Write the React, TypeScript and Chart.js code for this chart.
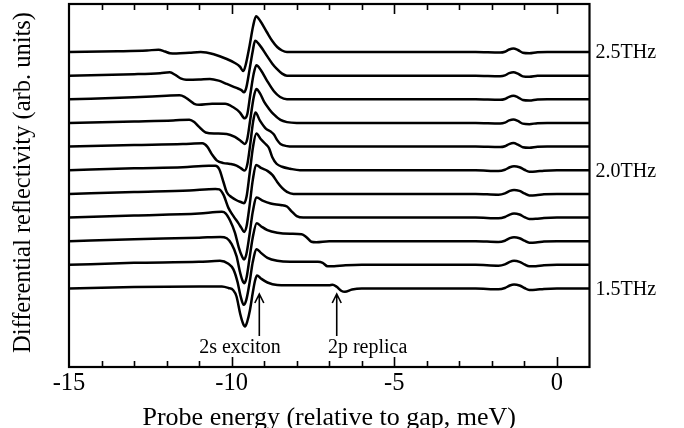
import React, { useEffect, useRef } from 'react';
import { Chart, registerables } from 'chart.js';

Chart.register(...registerables);

// ---- data (x: probe energy in meV, y: differential reflectivity, arb. units, relative to each trace's own baseline)
const frequencyTHz = [2.5, 2.4, 2.3, 2.2, 2.1, 2.0, 1.9, 1.8, 1.7, 1.6, 1.5];

const trace25: number[][] = [[-15,0],[-13.5,0.7],[-12.6,1.5],[-12.25,2.3],[-12.05,0.5],[-11.9,-1.2],[-11.7,-1.6],[-11.3,-0.8],[-10.95,0],[-10.55,-2.3],[-10.15,-7],[-9.9,-11],[-9.75,-14.5],[-9.64,-19],[-9.57,-13],[-9.45,6],[-9.34,26],[-9.25,35.7],[-9.12,31],[-8.92,20],[-8.75,11],[-8.6,5],[-8.45,1.5],[-8.3,0]];
const trace24: number[][] = [[-15,0],[-13,1.5],[-12.2,2.5],[-11.9,3.3],[-11.72,0.5],[-11.55,-3],[-11.4,-4],[-11.0,-3.8],[-10.67,-3.3],[-10.4,-5],[-10.15,-8.3],[-9.85,-12.3],[-9.7,-14.5],[-9.62,-16.7],[-9.55,-12],[-9.45,6],[-9.35,25],[-9.28,35],[-9.15,31],[-8.92,20],[-8.75,12],[-8.61,6.7],[-8.45,2],[-8.3,0]];
const trace23: number[][] = [[-15,0],[-13,2],[-12,3.5],[-11.6,4],[-11.45,2.5],[-11.3,-1],[-11.15,-4.5],[-11.0,-5.5],[-10.6,-4.5],[-10.2,-4.5],[-9.95,-8],[-9.75,-13],[-9.6,-19],[-9.52,-15],[-9.43,4],[-9.32,26],[-9.24,34],[-9.1,29],[-8.92,19],[-8.7,8],[-8.51,2.3],[-8.3,0]];
const trace22: number[][] = [[-15,0],[-13,1.5],[-11.8,2.5],[-11.3,3.3],[-11.15,1],[-11.0,-4],[-10.8,-9.5],[-10.5,-10.5],[-10.15,-11],[-9.9,-14],[-9.72,-18],[-9.6,-21],[-9.52,-16],[-9.43,3],[-9.32,26],[-9.24,34],[-9.12,29],[-9.0,21],[-8.85,14],[-8.72,9],[-8.5,3],[-8.3,0.8],[-8.0,0]];
const trace21: number[][] = [[-15,0],[-13,1.5],[-11.5,2.5],[-10.9,3.3],[-10.75,0],[-10.6,-8],[-10.45,-14],[-10.25,-16.5],[-10.05,-17.3],[-9.85,-19],[-9.7,-22],[-9.6,-24],[-9.52,-18],[-9.43,2],[-9.34,25],[-9.27,34],[-9.13,26],[-8.95,18],[-8.8,15],[-8.7,12],[-8.6,6.5],[-8.5,2.7],[-8.3,0.5],[-8.1,0]];
const trace20: number[][] = [[-15,0],[-13,2],[-11.5,3],[-10.7,4.5],[-10.5,4.5],[-10.38,1],[-10.25,-12],[-10.15,-22],[-10.0,-27],[-9.85,-30],[-9.7,-32],[-9.62,-33],[-9.54,-26],[-9.45,-4],[-9.34,24],[-9.24,36.7],[-9.1,31],[-8.95,26],[-8.85,22],[-8.75,13],[-8.62,6.5],[-8.45,3.5],[-8.2,1.5],[-7.9,0]];
const trace19: number[][] = [[-15,0],[-13,2],[-11.3,3.5],[-10.5,5],[-10.38,4.5],[-10.25,-1],[-10.1,-14],[-9.95,-22],[-9.8,-29],[-9.7,-34],[-9.62,-38],[-9.54,-32],[-9.45,-12],[-9.35,14],[-9.25,29],[-9.1,26],[-8.9,23],[-8.75,19],[-8.6,12],[-8.45,6],[-8.3,2],[-8.1,0]];
const trace18: number[][] = [[-15,0],[-13,2],[-11,4],[-10.3,5.7],[-10.18,4],[-10.05,-3],[-9.9,-15],[-9.78,-30],[-9.68,-39],[-9.62,-42],[-9.55,-37],[-9.45,-17],[-9.35,6],[-9.23,20],[-9.05,17],[-8.8,14],[-8.5,12.5],[-8.3,11],[-8.15,6],[-8.0,1.5],[-7.8,0]];
const trace17: number[][] = [[-15,0],[-13,2],[-11,3.5],[-10.35,4.3],[-10.15,3],[-10.0,-3],[-9.85,-15],[-9.75,-30],[-9.67,-39],[-9.61,-42],[-9.54,-36],[-9.45,-17],[-9.35,4],[-9.23,18],[-9.1,15],[-8.9,11],[-8.6,8.5],[-8.2,7.5],[-7.85,7],[-7.7,4],[-7.55,-0.5],[-7.4,-1],[-7.0,0]];
const trace16: number[][] = [[-15,0],[-13,2],[-11,3],[-10.36,4],[-10.1,1],[-9.95,-4.3],[-9.82,-17],[-9.72,-32],[-9.63,-40],[-9.55,-35],[-9.45,-18],[-9.35,3],[-9.23,15.7],[-9.1,12],[-8.9,7],[-8.6,4],[-8.2,3],[-7.35,3],[-7.2,2],[-7.05,-1.5],[-6.85,-1.3],[-6.5,-0.5],[-6.0,0]];
const trace15: number[][] = [[-15,0],[-13,1.5],[-11,2],[-10.3,2],[-10.1,0.5],[-9.95,-1.7],[-9.85,-8],[-9.74,-25],[-9.65,-35],[-9.59,-38],[-9.52,-33],[-9.44,-22],[-9.35,-4],[-9.28,8],[-9.22,13],[-9.1,10],[-8.9,6],[-8.6,3.5],[-8.3,3.3],[-7.0,3.3],[-6.9,3.8],[-6.77,1.7],[-6.62,-2.5],[-6.52,-3.3],[-6.3,-1],[-6.0,0]];

// band-edge wiggle near -1.4 meV (upper traces / lower traces)
const edgeUpper: number[][] = [[-2.5,0],[-1.75,-0.5],[-1.6,0.3],[-1.47,2.5],[-1.34,3.5],[-1.2,2],[-1.05,-0.7],[-0.85,-1.2],[-0.6,-0.2],[-0.3,0],[1,0]];
const edgeLower: number[][] = [[-2.5,0],[-1.8,-0.8],[-1.6,0.5],[-1.45,3],[-1.32,4],[-1.15,3],[-1.0,0.5],[-0.85,-1.5],[-0.65,-1.3],[-0.4,-0.4],[0,0],[1,0]];

const traces = [trace25, trace24, trace23, trace22, trace21, trace20, trace19, trace18, trace17, trace16, trace15];
const edgeFor = [edgeUpper, edgeUpper, edgeUpper, edgeUpper, edgeUpper, edgeLower, edgeLower, edgeLower, edgeLower, edgeLower, edgeLower];

const baselineBottom = 78.5; // baseline of 1.5 THz trace
const baselineStep = 23.65;  // vertical offset between traces

const sideLabels = ['2.5THz', '2.0THz', '1.5THz'];
const sideLabelTrace = [0, 5, 10];

const xTickValues = [-15, -10, -5, 0];
const xMin = -15, xMax = 1;
const yMin = 0, yMax = 363;

const arrowText = ['2s exciton', '2p replica'];
const arrowX = [-9.15, -6.77];
const arrowTextLeftX = [-11.0, -7.04];
const arrowTipY = 73;
const arrowTailY = 31;
const arrowTextBaselineY = 14;

const xTitle = 'Probe energy (relative to gap, meV)';
const yTitle = 'Differential reflectivity (arb. units)';

const SERIF = '"Liberation Serif", "DejaVu Serif", "Times New Roman", serif';

const decorPlugin = {
  id: 'decor',
  afterDatasetsDraw(chart: any) {
    const { ctx, chartArea } = chart;
    const xs = chart.scales.x;
    const ys = chart.scales.y;
    const { left, right, top, bottom } = chartArea;
    ctx.save();
    ctx.strokeStyle = '#000';
    ctx.fillStyle = '#000';
    // frame
    ctx.lineWidth = 2.2;
    ctx.strokeRect(left, top, right - left, bottom - top);
    // inward ticks top and bottom
    ctx.lineWidth = 1.6;
    for (let v = Math.ceil(xMin) + 1; v < xMax; v++) {
      const px = Math.round(xs.getPixelForValue(v)) + 0.5;
      const len = v % 5 === 0 ? 10 : 6;
      ctx.beginPath();
      ctx.moveTo(px, bottom);
      ctx.lineTo(px, bottom - len);
      ctx.moveTo(px, top);
      ctx.lineTo(px, top + len);
      ctx.stroke();
    }
    // side labels
    ctx.font = `20px ${SERIF}`;
    ctx.textAlign = 'left';
    ctx.textBaseline = 'middle';
    sideLabels.forEach((t, i) => {
      const idx = sideLabelTrace[i];
      const yv = baselineBottom + (traces.length - 1 - idx) * baselineStep;
      ctx.fillText(t, right + 6, ys.getPixelForValue(yv) + 1);
    });
    // arrows
    ctx.lineWidth = 1.6;
    arrowText.forEach((t, i) => {
      const px = xs.getPixelForValue(arrowX[i]);
      const tip = ys.getPixelForValue(arrowTipY);
      const tail = ys.getPixelForValue(arrowTailY);
      ctx.beginPath();
      ctx.moveTo(px, tail);
      ctx.lineTo(px, tip);
      ctx.moveTo(px - 4.5, tip + 9);
      ctx.lineTo(px, tip);
      ctx.lineTo(px + 4.5, tip + 9);
      ctx.stroke();
      ctx.textAlign = 'left';
      ctx.textBaseline = 'alphabetic';
      ctx.font = `20px ${SERIF}`;
      ctx.fillText(t, xs.getPixelForValue(arrowTextLeftX[i]), ys.getPixelForValue(arrowTextBaselineY));
    });
    // axis titles
    ctx.font = `26px ${SERIF}`;
    ctx.textAlign = 'center';
    ctx.textBaseline = 'alphabetic';
    ctx.fillText(xTitle, (left + right) / 2, 425);
    ctx.save();
    ctx.translate(30, (top + bottom) / 2 - 3);
    ctx.rotate(-Math.PI / 2);
    ctx.font = `24.5px ${SERIF}`;
    ctx.fillText(yTitle, 0, 0);
    ctx.restore();
    ctx.restore();
  },
};

export default function App() {
  const ref = useRef<HTMLCanvasElement | null>(null);
  useEffect(() => {
    if (!ref.current) return;
    const datasets = traces.map((tr, i) => {
      const off = baselineBottom + (traces.length - 1 - i) * baselineStep;
      const pts = [...tr, ...edgeFor[i]].map(([x, y]) => ({ x, y: y + off }));
      return {
        label: `${frequencyTHz[i]} THz`,
        data: pts,
        borderColor: '#000',
        borderWidth: 2.5,
        pointRadius: 0,
        fill: false,
        cubicInterpolationMode: 'monotone' as const,
        borderJoinStyle: 'round' as const,
        borderCapStyle: 'round' as const,
      };
    });
    const chart = new Chart(ref.current, {
      type: 'line',
      data: { datasets },
      options: {
        animation: false,
        responsive: false,
        maintainAspectRatio: false,
        layout: { padding: { left: 69, right: 94.5, top: 4, bottom: 0 } },
        plugins: { legend: { display: false }, tooltip: { enabled: false } },
        scales: {
          x: {
            type: 'linear',
            min: xMin,
            max: xMax,
            grid: { display: false, drawTicks: false },
            border: { display: false },
            afterBuildTicks: (s: any) => { s.ticks = xTickValues.map((v) => ({ value: v })); },
            afterFit: (s: any) => { s.height = 61; },
            ticks: {
              autoSkip: false,
              maxRotation: 0,
              padding: 2,
              color: '#000',
              font: { family: SERIF, size: 24.5 },
              callback: (v: any) => String(v),
            },
          },
          y: { type: 'linear', display: false, min: yMin, max: yMax },
        },
      },
      plugins: [decorPlugin],
    });
    return () => chart.destroy();
  }, []);
  return (
    <div style={{ position: 'fixed', left: 0, top: 0, width: 684, height: 428, background: '#fff' }}>
      <canvas ref={ref} width={684} height={428} style={{ display: 'block' }} />
    </div>
  );
}
